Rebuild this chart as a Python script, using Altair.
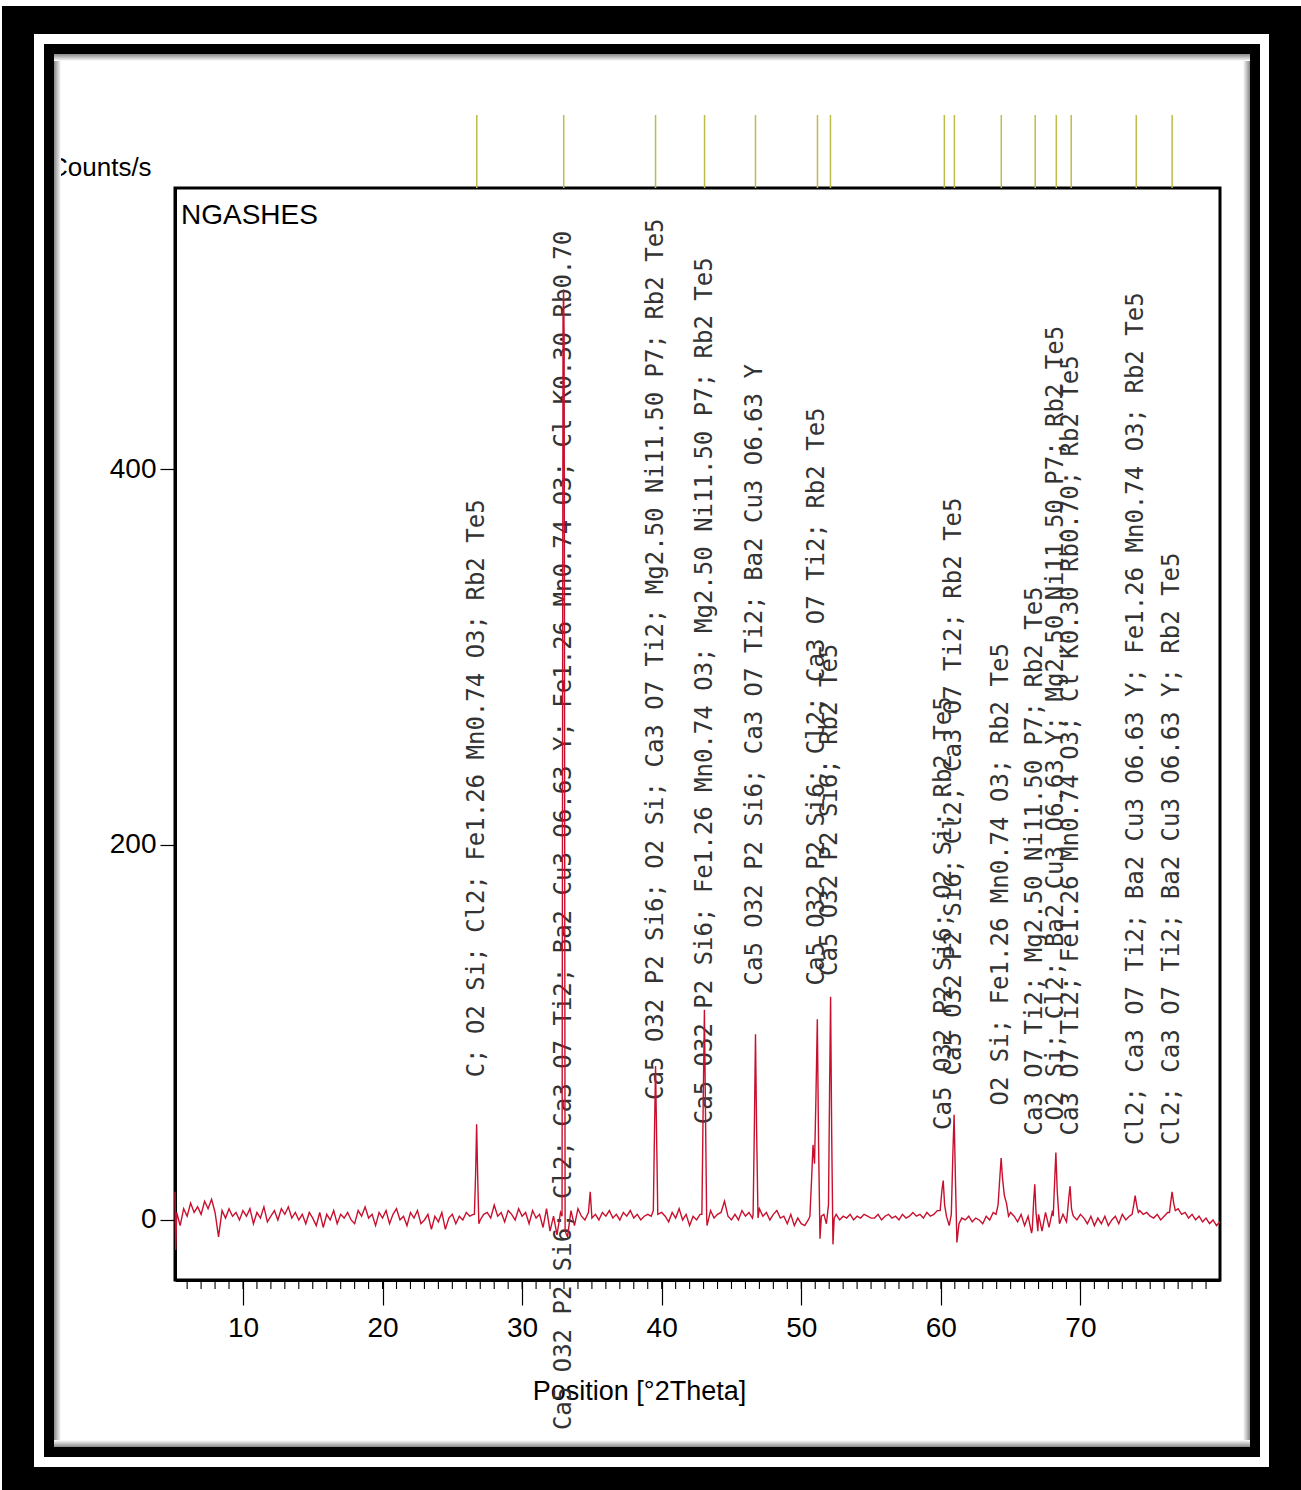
import altair as alt
import pandas as pd

# ---------------- data ----------------
# background trace: counts every 0.25 deg from 5.25 to 80.0 (None = covered by a peak list)
BG_START = 5.25
BG_STEP = 0.25
BG_COUNTS = [
    4, -3, 6, 2, 9, 4, 7, 3, 10, 6, 11, 4, -9, 5, 1, 6, 2, 4, 0, 5,
    2, 6, -2, 4, 1, 7, -1, 2, 5, 0, 6, 3, 7, 1, 4, 0, 3, -2, 4, 1,
    -3, 4, -4, 3, 0, 5, -2, 3, 1, 4, 0, -2, 5, 2, 7, 1, 3, -3, 4, 1,
    5, -2, 3, 6, 0, 2, -3, 4, 1, 5, -2, 0, 3, -5, 2, -1, 4, -5, 1, 3,
    -2, 2, 0, 4, 2, 3, None, 0, 3, 4, 1, 8, 2, 4, -1, 5, 3, 0, 6, 2,
    4, -2, 5, 1, 3, -4, 6, -6, 2, -8, 4, None, -9, 5, -3, 6, 2, 0, 4, 1,
    3, 0, 4, 2, 5, 1, 3, 0, 4, 2, 5, 1, 3, 0, 2, 3, 2, None, None, 4,
    2, -1, 4, 1, 6, 0, 3, -3, 2, 0, 3, None, -3, 5, 1, 3, 4, 10, 2, 0,
    3, 0, 5, 2, 4, 1, None, 6, 2, 4, 0, 3, 5, 1, 2, -2, 3, -3, 1, -2,
    -3, 0, None, None, None, None, None, None, None, 3, 0, 2, 1, 3, 0, 2, 1, 3, 2, 1,
    1, 3, 0, 2, 3, 1, 2, 0, 3, 1, 2, 4, 2, 3, 1, 4, 2, 3, 5, None,
    None, None, None, None, None, 1, 0, 2, -1, 1, 0, -2, 2, 0, 4, None, None, None, None, 4,
    2, -1, 3, -3, 2, -7, None, 3, -6, 4, -4, 5, None, -2, 3, -1, None, 2, 0, 3,
    1, -2, 2, -3, 1, -2, 2, -3, 0, 2, -2, 3, 0, 2, None, None, 5, 3, 4, 2,
    1, 3, 0, 2, 4, None, None, 6, 3, 4, 1, 3, 0, 2, -1, 1, -2, 0, -3, -1,
]

# peak regions of the trace (position, counts)
PEAK_POS = [5.13, 5.18,
            26.58, 26.67, 26.74, 26.82, 26.9,
            32.86, 32.93, 32.97, 33.01, 33.08,
            34.88,
            39.4, 39.48, 39.56, 39.64, 39.72,
            42.88, 42.97, 43.06, 43.14, 43.22,
            46.55, 46.64, 46.72, 46.8, 46.9,
            50.62, 50.74, 50.84, 50.95, 51.05, 51.15, 51.24, 51.34, 51.44, 51.62,
            51.8, 51.95, 52.03, 52.1, 52.18, 52.27, 52.36,
            59.95, 60.08, 60.17, 60.27, 60.4, 60.6, 60.75, 60.86, 60.95, 61.05, 61.15, 61.3,
            63.95, 64.1, 64.22, 64.32, 64.42, 64.55, 64.7, 64.85,
            66.55, 66.65, 66.73, 66.82, 66.95,
            68.05, 68.15, 68.24, 68.34, 68.45,
            69.05, 69.17, 69.26, 69.36, 69.45,
            73.7, 73.82, 73.92, 74.05, 74.15,
            76.38, 76.48, 76.57, 76.68, 76.8]
PEAK_CNT = [15, -16,
            3, 25, 51, 22, -2,
            2, 480, 496, 470, -6,
            15,
            5, 45, 82, 42, 3,
            3, 60, 112, 55, 2,
            3, 50, 99, 48, 1,
            2, 22, 40, 30, 65, 107, 40, -10, 2, 3,
            -2, 8, 70, 119, 45, -13, 1,
            5, 16, 21, 8, 2, -3, 3, 35, 56, 20, -12, -2,
            3, 8, 22, 33, 22, 13, 9, 2,
            -5, 10, 19, 4, -6,
            2, 20, 36, 15, 3,
            2, 12, 18, 6, 3,
            3, 8, 13, 7, 4,
            4, 10, 15, 9, 5]

# reference (phase) positions and their labels
REF_POS = [26.75, 32.98, 39.56, 43.07, 46.72, 51.16, 52.09, 60.25, 60.97,
           64.33, 66.76, 68.27, 69.34, 74.0, 76.57]
REF_LABELS = [
    "C; O2 Si; Cl2; Fe1.26 Mn0.74 O3; Rb2 Te5",
    "Ca5 O32 P2 Si6; Cl2; Ca3 O7 Ti2; Ba2 Cu3 O6.63 Y; Fe1.26 Mn0.74 O3; Cl K0.30 Rb0.70",
    "Ca5 O32 P2 Si6; O2 Si; Ca3 O7 Ti2; Mg2.50 Ni11.50 P7; Rb2 Te5",
    "Ca5 O32 P2 Si6; Fe1.26 Mn0.74 O3; Mg2.50 Ni11.50 P7; Rb2 Te5",
    "Ca5 O32 P2 Si6; Ca3 O7 Ti2; Ba2 Cu3 O6.63 Y",
    "Ca5 O32 P2 Si6; Cl2; Ca3 O7 Ti2; Rb2 Te5",
    "Ca5 O32 P2 Si6; Rb2 Te5",
    "Ca5 O32 P2 Si6; O2 Si; Rb2 Te5",
    "Ca5 O32 P2 Si6; Cl2; Ca3 O7 Ti2; Rb2 Te5",
    "O2 Si; Fe1.26 Mn0.74 O3; Rb2 Te5",
    "Ca3 O7 Ti2; Mg2.50 Ni11.50 P7; Rb2 Te5",
    "O2 Si; Cl2; Ba2 Cu3 O6.63 Y; Mg2.50 Ni11.50 P7; Rb2 Te5",
    "Ca3 O7 Ti2; Fe1.26 Mn0.74 O3; Cl K0.30 Rb0.70; Rb2 Te5",
    "Cl2; Ca3 O7 Ti2; Ba2 Cu3 O6.63 Y; Fe1.26 Mn0.74 O3; Rb2 Te5",
    "Cl2; Ca3 O7 Ti2; Ba2 Cu3 O6.63 Y; Rb2 Te5",
]
# counts level where each label starts
LABEL_BASE = [76, -112, 64, 51, 125, 125, 130, 48, 77, 61, 45, 53, 45, 40, 40]

X_TICKS = [10, 20, 30, 40, 50, 60, 70]
X_MINOR = [v for v in range(6, 80)]
Y_TICKS = [0, 200, 400]

# ---------------- assemble tables ----------------
rows = [(BG_START + i * BG_STEP, c) for i, c in enumerate(BG_COUNTS) if c is not None]
rows += list(zip(PEAK_POS, PEAK_CNT))
trace = pd.DataFrame(rows, columns=["pos", "cnt"]).sort_values("pos").reset_index(drop=True)
labels = pd.DataFrame({"pos": REF_POS, "base": LABEL_BASE, "label": REF_LABELS})
refs = pd.DataFrame({"pos": REF_POS})
minor = pd.DataFrame({"pos": X_MINOR})

NARROW = "Liberation Sans Narrow, Liberation Sans, Arial, sans-serif"
W, H = 1045, 1092
XS = alt.Scale(domain=[5.13, 80], nice=False, zero=False)
YS = alt.Scale(domain=[-32, 550], nice=False, zero=False)

x_axis = alt.Axis(values=X_TICKS, tickSize=25, tickWidth=1.2, tickColor="black",
                  domainColor="black", domainWidth=3, labelFont=NARROW, labelFontSize=28,
                  labelColor="black", labelPadding=9, grid=False, format="d",
                  title="Position [°2Theta]", titleFont=NARROW, titleFontSize=27,
                  titleFontWeight="normal", titleColor="black", titlePadding=36,
                  titleX=464, titleAlign="center")
y_axis = alt.Axis(values=Y_TICKS, tickSize=15, tickWidth=1.2, tickColor="black",
                  domainColor="black", domainWidth=3, labelFont=NARROW, labelFontSize=28,
                  labelColor="black", labelPadding=4, grid=False, title=None)

minor_ticks = alt.Chart(minor).mark_rule(color="black", strokeWidth=1.1).encode(
    x=alt.X("pos:Q", scale=XS, axis=x_axis), y=alt.value(H + 2), y2=alt.value(H + 9))

label_text = alt.Chart(labels).mark_text(
    angle=270, align="left", baseline="middle", font="DejaVu Sans Mono",
    fontSize=24, color="#333333").encode(
    x=alt.X("pos:Q", scale=XS), y=alt.Y("base:Q", scale=YS, axis=y_axis), text="label:N")

line = alt.Chart(trace).mark_line(color="#c8102e", strokeWidth=1.4).encode(
    x=alt.X("pos:Q", scale=XS), y=alt.Y("cnt:Q", scale=YS), order="pos:Q")

markers = alt.Chart(refs).mark_rule(color="#bdbd4a", strokeWidth=1.5).encode(
    x=alt.X("pos:Q", scale=XS), y=alt.value(-73), y2=alt.value(0))


def txt(t, x, y, size, color="black"):
    return alt.Chart(alt.Data(values=[{}])).mark_text(
        text=t, font=NARROW, fontSize=size, color=color, align="left",
        baseline="alphabetic").encode(x=alt.value(x), y=alt.value(y))


def box(x1, x2, y1, y2, fill):
    return alt.Chart(alt.Data(values=[{}])).mark_rect(color=fill).encode(
        x=alt.value(x1), x2=alt.value(x2), y=alt.value(y1), y2=alt.value(y2))


def grad(horizontal, reverse):
    c0, c1 = ("#888888", "#ffffff") if not reverse else ("#ffffff", "#888888")
    return alt.LinearGradient(
        gradient="linear",
        stops=[alt.GradientStop(color=c0, offset=0), alt.GradientStop(color=c1, offset=1)],
        x1=0, y1=0, x2=1 if horizontal else 0, y2=0 if horizontal else 1)


ngashes = txt("NGASHES", 6, 36, 28)
counts = txt("Counts/s", -126, -12, 26)

# page frame (absolute page px converted to plot-relative px: origin at 175,188)
L, T = 175, 188
frame = [
    box(54 - L, 61 - L, 54 - T, 1447 - T, grad(True, False)),
    box(1243 - L, 1250 - L, 54 - T, 1447 - T, grad(True, True)),
    box(54 - L, 1250 - L, 54 - T, 61 - T, grad(False, False)),
    box(54 - L, 1250 - L, 1440 - T, 1447 - T, grad(False, True)),
    box(2 - L, 1301 - L, 6 - T, 34 - T, "black"),
    box(2 - L, 34 - L, 6 - T, 1490 - T, "black"),
    box(1269 - L, 1301 - L, 6 - T, 1490 - T, "black"),
    box(2 - L, 1301 - L, 1467 - T, 1490 - T, "black"),
    box(44 - L, 1260 - L, 44 - T, 54 - T, "black"),
    box(44 - L, 54 - L, 44 - T, 1457 - T, "black"),
    box(1250 - L, 1260 - L, 44 - T, 1457 - T, "black"),
    box(44 - L, 1260 - L, 1447 - T, 1457 - T, "black"),
]

chart = alt.layer(minor_ticks, label_text, line, markers, ngashes, counts, *frame).properties(
    width=W, height=H,
    padding={"left": L, "top": T, "right": 1301 - L - W, "bottom": 1490 - T - H},
    autosize=alt.AutoSizeParams(type="none"),
    background="white",
).configure_view(stroke="black", strokeWidth=3)

chart.save("out.html", embed_options={"renderer": "svg", "actions": False})
